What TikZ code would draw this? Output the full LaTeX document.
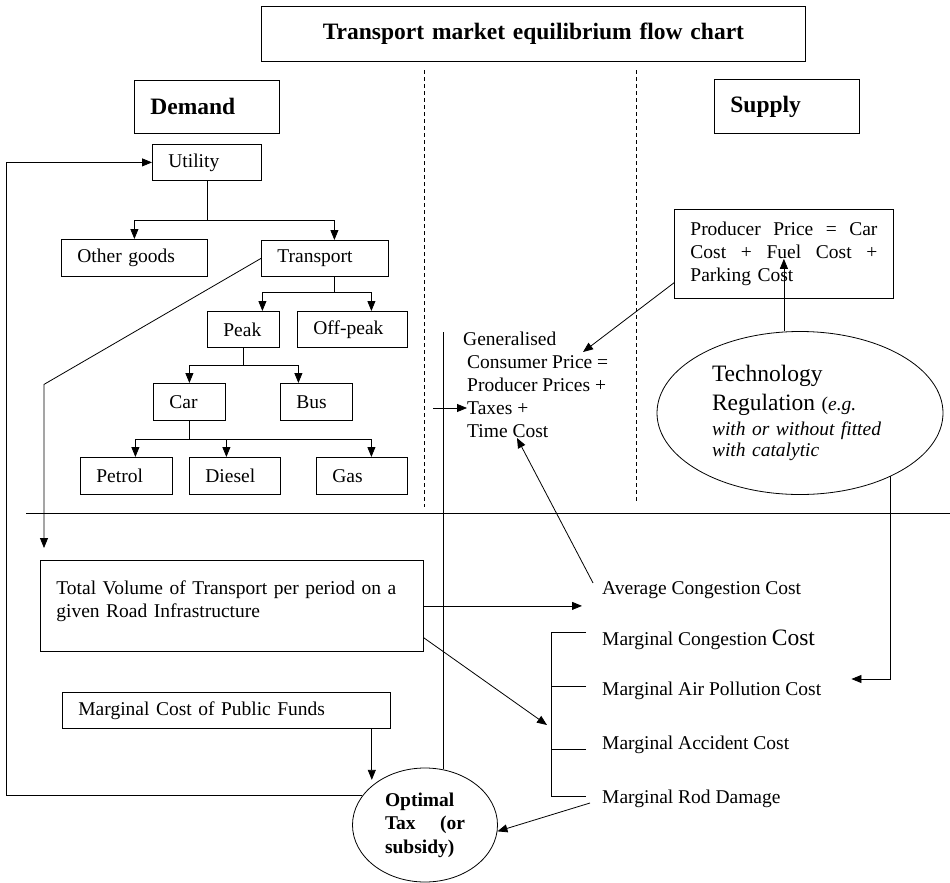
\documentclass[tikz,border=0pt]{standalone}
\usepackage{fontspec}
\setmainfont{Liberation Serif}
\usetikzlibrary{arrows.meta,shapes.geometric}

\tikzset{
	box/.style={draw, line width=0.8bp, anchor=north west, inner xsep=16bp, inner ysep=0pt, align=left, minimum height=36bp},
	head/.style={box, minimum height=53bp, font=\bfseries\fontsize{23.5bp}{28bp}\selectfont},
	lbl/.style={inner sep=0pt},
	oval/.style={draw, ellipse, line width=0.8bp, inner sep=0pt},
	con/.style={line width=0.8bp},
	arr/.style={con, -{Triangle[length=10bp,width=8bp]}},
	sep/.style={line width=0.8bp, dash pattern=on 4bp off 3bp},
}

\begin{document}
\begin{tikzpicture}[x=1bp, y=-1bp, font=\fontsize{19.5bp}{23bp}\selectfont]
	\useasboundingbox (0,0) rectangle (950,883);
	\node[box, text width=512bp, minimum height=55bp, align=center, font=\bfseries\fontsize{23.5bp}{28bp}\selectfont] (title) at (261,6) {Transport market equilibrium flow chart};
	\node[head, text width=113bp] (demand) at (134,80) {Demand};
	\node[head, text width=113bp, minimum height=54bp] (supply) at (714,79) {Supply};

	\node[box, text width=77bp] (utility) at (152,144) {Utility};
	\node[box, text width=114bp, minimum height=37bp] (other) at (61,239) {Other goods};
	\node[box, text width=95bp] (transport) at (261,240) {Transport};
	\node[box, text width=40bp] (peak) at (207,311) {Peak};
	\node[box, text width=78bp] (offpeak) at (297,311) {Off-peak};
	\node[box, text width=40bp, minimum height=37bp] (car) at (153,383) {Car};
	\node[box, text width=40bp, minimum height=37bp] (bus) at (280,383) {Bus};
	\node[box, text width=60bp, minimum height=37bp] (petrol) at (80,457) {Petrol};
	\node[box, text width=59bp, minimum height=37bp] (diesel) at (189,457) {Diesel};
	\node[box, text width=59bp, minimum height=37bp] (gas) at (316,457) {Gas};

	\node[box, text width=187bp, minimum height=89bp] (producer) at (674,209) {\makebox[187bp][l]{Producer\hfill Price\hfill =\hfill Car}\\ \makebox[187bp][l]{Cost\hfill +\hfill Fuel\hfill Cost\hfill +}\\ Parking Cost};
	\node[lbl, align=left, anchor=north west] (consumer) at (467,332) {\hspace*{-4bp}Generalised\\ Consumer Price =\\ Producer Prices +\\ Taxes +\\ Time Cost};
	\node[oval, minimum width=286bp, minimum height=163bp, text width=176bp, align=left] (tech) at (800,413) {{\fontsize{23.5bp}{28bp}\selectfont Technology}\\[6bp] {\fontsize{23.5bp}{28bp}\selectfont Regulation} (\textit{e.g.}\\[2bp] \textit{with or without fitted}\\[-2bp] \textit{with catalytic}};

	\node[box, text width=351bp, minimum height=91bp] (volume) at (40,560) {Total Volume of Transport per period on a\\ given Road Infrastructure\\[-10bp] \mbox{}};
	\node[box, text width=296bp] (funds) at (62,692) {Marginal Cost of Public Funds};
	\node[oval, minimum width=145bp, minimum height=114bp, text width=80bp, align=justify, font=\bfseries\fontsize{19.5bp}{23.5bp}\selectfont] (tax) at (425,825) {Optimal Tax (or subsidy)};

	\node[lbl, anchor=base west] (avg) at (602,594) {Average Congestion Cost};
	\node[lbl, anchor=base west] (mcong) at (602,645) {Marginal Congestion {\fontsize{23.5bp}{23bp}\selectfont Cost}};
	\node[lbl, anchor=base west] (mair) at (602,695) {Marginal Air Pollution Cost};
	\node[lbl, anchor=base west] (macc) at (602,749) {Marginal Accident Cost};
	\node[lbl, anchor=base west] (mroad) at (602,803) {Marginal Rod Damage};

	\draw[sep] (424,70) -- (424,507);
	\draw[sep] (636,70) -- (636,503);
	\draw[con] (26,513) -- (950,513);

	\draw[con] (utility.south) -- ++(0,40) coordinate (u);
	\draw[arr] (u) -| (other.north);
	\draw[arr] (u) -| ([xshift=9.5bp]transport.north);
	\draw[con] ([xshift=9.5bp]transport.south) -- ++(0,16) coordinate (t);
	\draw[arr] (t) -| ([xshift=19bp]peak.north);
	\draw[arr] (t) -| ([xshift=19bp]offpeak.north);
	\draw[con] (peak.south) -- ++(0,18) coordinate (p);
	\draw[arr] (p) -| (car.north);
	\draw[arr] (p) -| ([xshift=-18bp]bus.north);
	\draw[con] (car.south) -- ++(0,19) coordinate (c);
	\draw[arr] (c) -| ([xshift=9bp]petrol.north);
	\draw[arr] (c) -| ([xshift=-8.5bp]diesel.north);
	\draw[arr] (c) -| ([xshift=9.5bp]gas.north);

	\draw[arr] (tax.155) -- ++(-356,0) |- (utility.west);
	\draw[arr, shorten >=12bp] (transport.west) -- ++(-217,126) -- ([xshift=4bp]volume.north west);
	\draw[arr, shorten >=20bp] (volume.east) -- (volume.east -| avg.west);
	\draw[arr] ([yshift=14bp]volume.south east) -- ([xshift=-55bp,yshift=24bp]macc.base west);
	\draw[con] ([xshift=-16bp,yshift=13bp]mcong.base west) -| ([xshift=-51bp,yshift=7bp]mroad.base west) -- ([xshift=-16bp,yshift=7bp]mroad.base west);
	\draw[con] ([xshift=-16bp,yshift=9bp]mair.base west) -- ++(-35,0);
	\draw[con] ([xshift=-16bp]macc.base west) -- ++(-35,0);
	\draw[arr] ([xshift=-12bp]mroad.base west) -- (tax.-5);
	\draw[arr, shorten >=7bp] ([xshift=-19bp]funds.south east) -- ([xshift=-19bp]funds.south east |- tax.145);
	\draw[con] (tax.72) -- ++(0,-437);
	\draw[arr] ([xshift=-34bp,yshift=-76bp]consumer.north west) -- ([yshift=-76bp]consumer.north west);
	\draw[arr] ([xshift=-9bp,yshift=-2bp]avg.north west) -- ([xshift=50bp,yshift=-106bp]consumer.north west);
	\draw[arr] ([yshift=16bp]producer.south west) -- ([xshift=116bp,yshift=-20bp]consumer.north west);
	\draw[arr] (tech.north -| producer.south) -- ([yshift=40bp]producer.south);
	\draw[arr] (tech.-35) |- ([xshift=30bp,yshift=16bp]mair.base east);
\end{tikzpicture}
\end{document}
